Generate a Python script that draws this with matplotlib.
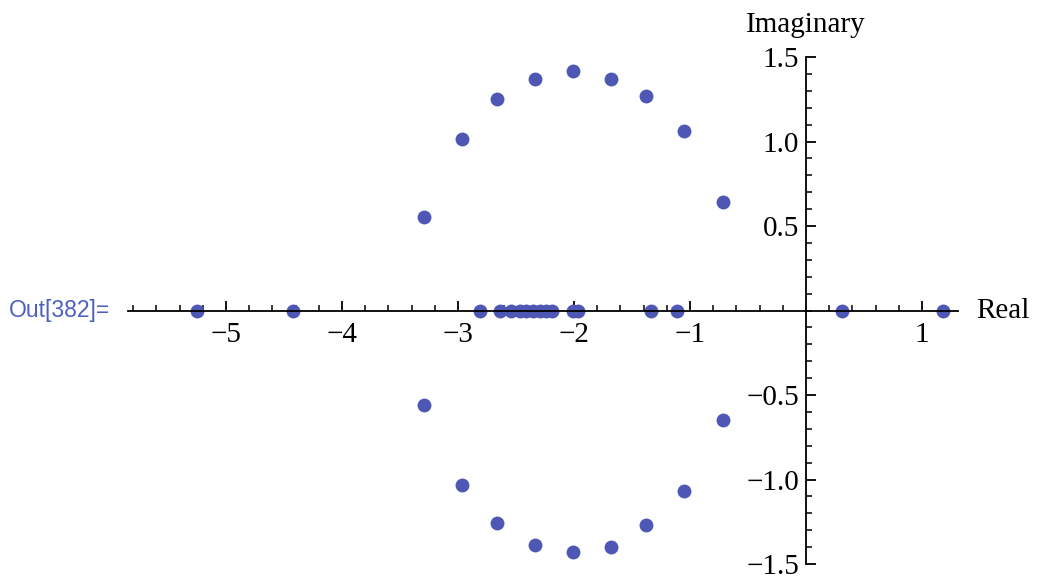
import matplotlib.pyplot as plt
from matplotlib.ticker import MultipleLocator, FixedLocator, FixedFormatter

# roots
upper_re = [-3.29, -2.97, -2.66, -2.34, -2.01, -1.68, -1.38, -1.05, -0.72]
upper_im = [0.556, 1.015, 1.25, 1.37, 1.415, 1.37, 1.27, 1.06, 0.64]
lower_re = [-3.29, -2.97, -2.66, -2.34, -2.01, -1.68, -1.38, -1.05, -0.72]
lower_im = [-0.562, -1.03, -1.26, -1.385, -1.43, -1.40, -1.27, -1.07, -0.65]
real_re = [-5.25, -4.42, -2.81, -2.64, -2.54, -2.47, -2.41, -2.35, -2.29, -2.24,
           -2.19, -2.01, -1.97, -1.34, -1.11, 0.31, 1.18]
real_im = [0.0] * len(real_re)

x_ticks = [-5, -4, -3, -2, -1, 1]
x_labels = ['\u22125', '\u22124', '\u22123', '\u22122', '\u22121', '1']
y_ticks = [1.5, 1.0, 0.5, -0.5, -1.0, -1.5]
y_labels = ['1.5', '1.0', '0.5', '\u22120.5', '\u22121.0', '\u22121.5']

W, H = 1037, 578
fig = plt.figure(figsize=(W / 100, H / 100), dpi=100)
ax = fig.add_axes([128 / W, (H - 564) / H, (958 - 128) / W, (564 - 57) / H])

dot = '#4E58B4'
ax.plot(upper_re, upper_im, 'o', color=dot, markersize=10, markeredgewidth=0)
ax.plot(lower_re, lower_im, 'o', color=dot, markersize=10, markeredgewidth=0)
ax.plot(real_re, real_im, 'o', color=dot, markersize=10, markeredgewidth=0)

ax.set_xlim(-5.845, 1.31)
ax.set_ylim(-1.5, 1.5)

# axes through the origin
ax.spines['left'].set_position('zero')
ax.spines['bottom'].set_position('zero')
ax.spines['right'].set_visible(False)
ax.spines['top'].set_visible(False)
for s in ['left', 'bottom']:
    ax.spines[s].set_linewidth(1.3)

serif = 'Liberation Serif'
fs = 21
ax.xaxis.set_major_locator(FixedLocator(x_ticks))
ax.xaxis.set_major_formatter(FixedFormatter(x_labels))
ax.xaxis.set_minor_locator(MultipleLocator(0.2))
ax.yaxis.set_major_locator(FixedLocator(y_ticks))
ax.yaxis.set_major_formatter(FixedFormatter(y_labels))
ax.yaxis.set_minor_locator(MultipleLocator(0.1))

ax.tick_params(which='major', direction='in', length=7, width=1.3, labelsize=fs)
ax.tick_params(axis='x', which='major', pad=8)
ax.tick_params(axis='y', which='major', pad=5)
ax.tick_params(which='minor', direction='in', length=4, width=1.1)
for lab in ax.get_xticklabels():
    lab.set_fontfamily(serif)
for lab in ax.get_yticklabels():
    lab.set_fontfamily(serif)
    lab.set_verticalalignment('center_baseline')

ax.text(1.47, 0, 'Real', fontsize=fs, family=serif, ha='left', va='center')
ax.text(0, 1.61, 'Imaginary', fontsize=fs, family=serif, ha='center', va='bottom')

fig.text(9 / W, 1 - 311 / H, 'Out[382]=', fontsize=16.5, family='Liberation Sans',
         color='#5060C0', ha='left', va='center')

fig.savefig('out.png', dpi=100)
